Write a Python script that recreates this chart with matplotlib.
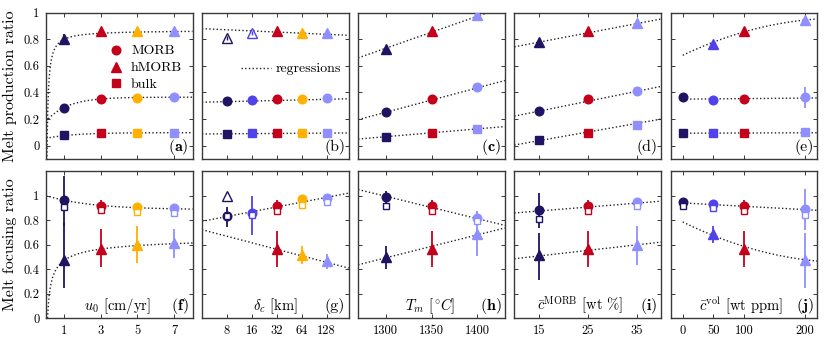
import numpy as np
import matplotlib
matplotlib.use('Agg')
import matplotlib.pyplot as plt
from matplotlib.lines import Line2D

plt.rcParams.update({
    'font.family': 'serif', 'font.serif': ['cmr10'], 'mathtext.fontset': 'cm',
    'axes.formatter.use_mathtext': True, 'font.size': 9,
})

NAVY, MBLUE, RED, ORANGE, LBLUE = '#1e1462', '#4f42ec', '#c4001a', '#ffb000', '#8f8fff'

# ---------------- data ----------------
# (a)/(f): plate speed u0 [cm/yr]
u0 = [1, 3, 5, 7]
u0_colors = [NAVY, RED, ORANGE, LBLUE]
a_morb = [0.287, 0.348, 0.360, 0.365]
a_hmorb = [0.800, 0.862, 0.862, 0.862]
a_bulk = [0.078, 0.095, 0.095, 0.098]
a_morb_err = [0.03, 0, 0, 0]
a_hmorb_err = [0.04, 0, 0, 0]
f_morb = [0.962, 0.916, 0.905, 0.896]
f_morb_lo = [0.75, 0.87, 0.88, 0.87]
f_morb_hi = [1.163, 0.96, 0.93, 0.92]
f_bulk = [0.907, 0.880, 0.869, 0.861]
f_hmorb = [0.471, 0.564, 0.600, 0.610]
f_hmorb_lo = [0.25, 0.42, 0.45, 0.49]
f_hmorb_hi = [0.78, 0.73, 0.75, 0.73]

# (b)/(g): compaction length delta_c [km]
dc = [8, 16, 32, 64, 128]
dc_colors = [NAVY, MBLUE, RED, ORANGE, LBLUE]
dc_hollow = [True, True, False, False, False]
b_morb = [0.335, 0.343, 0.348, 0.350, 0.358]
b_hmorb = [0.810, 0.844, 0.861, 0.844, 0.849]
b_hmorb_err = [0.015, 0.015, 0, 0, 0]
b_bulk = [0.088, 0.093, 0.095, 0.095, 0.096]
g_morb = [0.831, 0.858, 0.913, 0.973, 0.980]
g_morb_lo = [0.744, 0.676, 0.87, 0.95, 0.95]
g_morb_hi = [0.907, 1.00, 0.96, 1.00, 1.01]
g_bulk = [0.830, 0.845, 0.877, 0.926, 0.945]
g_hmorb = [1.000, np.nan, 0.567, 0.512, 0.463]
g_hmorb_lo = [0.99, np.nan, 0.42, 0.44, 0.40]
g_hmorb_hi = [1.01, np.nan, 0.708, 0.59, 0.52]

# (c)/(h): mantle potential temperature Tm [C]
Tm = [1300, 1350, 1400]
Tm_colors = [NAVY, RED, LBLUE]
c_morb = [0.252, 0.348, 0.440]
c_hmorb = [0.730, 0.861, 0.980]
c_bulk = [0.068, 0.093, 0.126]
h_morb = [0.989, 0.913, 0.817]
h_morb_lo = [0.94, 0.87, 0.76]
h_morb_hi = [1.04, 0.96, 0.877]
h_bulk = [0.913, 0.872, 0.796]
h_hmorb = [0.496, 0.564, 0.690]
h_hmorb_lo = [0.40, 0.42, 0.51]
h_hmorb_hi = [0.59, 0.708, 0.87]

# (d)/(i): MORB fraction c_MORB [wt %]
cm = [15, 25, 35]
cm_colors = [NAVY, RED, LBLUE]
d_morb = [0.264, 0.348, 0.408]
d_hmorb = [0.776, 0.864, 0.920]
d_bulk = [0.043, 0.093, 0.156]
i_morb = [0.886, 0.916, 0.946]
i_morb_lo = [0.735, 0.87, 0.91]
i_morb_hi = [1.02, 0.96, 0.98]
i_bulk = [0.812, 0.877, 0.913]
i_hmorb = [0.512, 0.567, 0.600]
i_hmorb_lo = [0.313, 0.42, 0.436]
i_hmorb_hi = [0.695, 0.708, 0.755]

# (e)/(j): volatile content c_vol [wt ppm]
cv = [0, 50, 100, 200]
cv_colors = [NAVY, MBLUE, RED, LBLUE]
e_morb = [0.365, 0.345, 0.348, 0.365]
e_morb_err = [0, 0, 0, 0.08]
e_hmorb = [np.nan, 0.768, 0.861, 0.945]
e_bulk = [0.096, 0.093, 0.093, 0.106]
j_morb = [0.948, 0.935, 0.913, 0.891]
j_morb_lo = [0.935, 0.915, 0.87, 0.722]
j_morb_hi = [0.96, 0.955, 0.96, 1.054]
j_bulk = [0.913, 0.899, 0.872, 0.845]
j_hmorb = [np.nan, 0.690, 0.567, 0.477]
j_hmorb_lo = [np.nan, 0.613, 0.42, 0.245]
j_hmorb_hi = [np.nan, 0.755, 0.708, 0.695]

# regression parameters
a_reg_morb = (0.365, 0.185, 1.15)    # A - B exp(-x/tau)
a_reg_bulk = (0.098, 0.043, 1.5)
a_reg_hmorb = (0.868, 0.068)         # A - B / x
f_reg_morb = (0.885, -0.115, 2.5)    # A - B exp(-x/tau)
f_reg_hmorb = (0.691, 0.22)          # A - B / sqrt(x)
b_reg = {'morb': (0.0044, 0.318), 'hmorb': (-0.0085, 0.897), 'bulk': (0.00136, 0.0853)}  # vs log2
g_reg = {'up': (0.039, 0.712), 'low': (-0.0531, 0.828)}
c_reg = {'morb': (0.00184, 0.343), 'hmorb': (0.00241, 0.853), 'bulk': (0.000588, 0.097)}  # vs T-1350
h_reg = {'up': (-0.001825, 0.903), 'low': (0.001875, 0.586)}
d_reg = {'morb': (0.00747, 0.334), 'hmorb': (0.00697, 0.848), 'bulk': (0.0065, 0.1025)}  # vs c-25
i_reg = {'up': (0.0032, 0.906), 'low': (0.00453, 0.553)}
e_reg = {'morb': (0.0, 0.00004, 0.35), 'hmorb': (-4.25e-6, 0.002175, 0.68), 'bulk': (0.0, 0.000015, 0.094)}
j_reg = {'up': (0.0, -0.000273, 0.94), 'low': (4.5e-6, -0.00244, 0.785)}

# ---------------- layout ----------------
W, H = 830, 343
fig = plt.figure(figsize=(W / 100, H / 100), dpi=100)
lefts = [45.7 + 156.2 * k for k in range(5)]
pw = 146.8
top_row = (12.7, 159.0)
bot_row = (171.0, 318.3)


def mk_ax(left, row):
    return fig.add_axes([left / W, 1 - row[1] / H, pw / W, (row[1] - row[0]) / H])


axt = [mk_ax(l, top_row) for l in lefts]
axb = [mk_ax(l, bot_row) for l in lefts]

xlims = [(0, 8), (4, 237), (1270, 1430), (10, 40), (-20, 220)]
xticks = [u0, dc, Tm, cm, cv]
EC = '#3a3a3a'
for k in range(5):
    for ax in (axt[k], axb[k]):
        if k == 1:
            ax.set_xscale('log', base=2)
            ax.minorticks_off()
        ax.set_xlim(*xlims[k])
        ax.set_xticks(xticks[k])
        ax.set_xticklabels([str(v) for v in xticks[k]])
        ax.tick_params(direction='in', top=True, right=True, length=3, width=0.7,
                       color=EC, labelsize=9, pad=4.5)
        for s in ax.spines.values():
            s.set_linewidth(1.0)
            s.set_color(EC)
    axt[k].set_ylim(-0.1, 1)
    axt[k].set_yticks([0, 0.2, 0.4, 0.6, 0.8, 1])
    axt[k].set_xticklabels([])
    axb[k].set_ylim(0, 1.2)
    axb[k].set_yticks([0, 0.2, 0.4, 0.6, 0.8, 1])
    if k == 0:
        axt[k].set_yticklabels(['0', '0.2', '0.4', '0.6', '0.8', '1'])
        axb[k].set_yticklabels(['0', '0.2', '0.4', '0.6', '0.8', '1'])
    else:
        axt[k].set_yticklabels([])
        axb[k].set_yticklabels([])

axt[0].set_ylabel('Melt production ratio', fontsize=11.5, labelpad=5)
axb[0].set_ylabel('Melt focusing ratio', fontsize=11.5, labelpad=5)

EW = 1.3


def eb(ax, x, y, lo, hi, marker, c, ms, mfc, z):
    if np.isnan(y):
        return
    yerr = [[max(y - lo, 0)], [max(hi - y, 0)]]
    ax.errorbar([x], [y], yerr=yerr, fmt=marker, color=c, mec=c, mfc=mfc, ms=ms,
                elinewidth=EW, capsize=0, zorder=z, mew=1.0)


def draw_top(ax, xs, cols, morb, hmorb, bulk, morb_err=None, hmorb_err=None, hollow=None):
    n = len(xs)
    morb_err = morb_err or [0] * n
    hmorb_err = hmorb_err or [0] * n
    hollow = hollow or [False] * n
    for i in range(n):
        c = cols[i]
        eb(ax, xs[i], hmorb[i], hmorb[i] - hmorb_err[i], hmorb[i] + hmorb_err[i], '^', c, 7,
           'white' if hollow[i] else c, 3)
        if hollow[i]:
            ax.errorbar([xs[i]], [hmorb[i]], yerr=[[hmorb_err[i]], [hmorb_err[i]]], fmt='none',
                        ecolor=c, elinewidth=1.0, capsize=0, zorder=3.5)
        eb(ax, xs[i], morb[i], morb[i] - morb_err[i], morb[i] + morb_err[i], 'o', c, 6.2, c, 3)
        eb(ax, xs[i], bulk[i], bulk[i], bulk[i], 's', c, 5.3, c, 3)


def draw_bot(ax, xs, cols, morb, mlo, mhi, bulk, hmorb, hlo, hhi, hollow=None):
    n = len(xs)
    hollow = hollow or [False] * n
    for i in range(n):
        c = cols[i]
        eb(ax, xs[i], hmorb[i], hlo[i], hhi[i], '^', c, 7, 'white' if hollow[i] else c, 3)
        eb(ax, xs[i], morb[i], mlo[i], mhi[i], 'o', c, 6.2, c, 3)
        ax.plot([xs[i]], [bulk[i]], 's', mec=c, mfc='white', ms=5.0, mew=1.0, zorder=4)


LS = dict(ls=':', color='#222222', lw=1.0, zorder=2)

# (a)
xa = np.linspace(0.01, 8, 400)
for A, B, tau in (a_reg_morb, a_reg_bulk):
    axt[0].plot(xa, A - B * np.exp(-xa / tau), **LS)
axt[0].plot(xa, a_reg_hmorb[0] - a_reg_hmorb[1] / xa, **LS)
draw_top(axt[0], u0, u0_colors, a_morb, a_hmorb, a_bulk, a_morb_err, a_hmorb_err)
# (f)
axb[0].plot(xa, f_reg_morb[0] - f_reg_morb[1] * np.exp(-xa / f_reg_morb[2]), **LS)
axb[0].plot(xa, f_reg_hmorb[0] - f_reg_hmorb[1] / np.sqrt(xa), **LS)
draw_bot(axb[0], u0, u0_colors, f_morb, f_morb_lo, f_morb_hi, f_bulk, f_hmorb, f_hmorb_lo, f_hmorb_hi)

# (b)/(g)
xb = np.logspace(np.log2(4), np.log2(237), 200, base=2)
for key in ('morb', 'hmorb', 'bulk'):
    axt[1].plot(xb, np.polyval(b_reg[key], np.log2(xb)), **LS)
draw_top(axt[1], dc, dc_colors, b_morb, b_hmorb, b_bulk, hmorb_err=b_hmorb_err, hollow=dc_hollow)
for key in ('up', 'low'):
    axb[1].plot(xb, np.polyval(g_reg[key], np.log2(xb)), **LS)
draw_bot(axb[1], dc, dc_colors, g_morb, g_morb_lo, g_morb_hi, g_bulk, g_hmorb, g_hmorb_lo, g_hmorb_hi,
         hollow=dc_hollow)

# (c)/(h)
xc = np.linspace(1270, 1430, 50)
for key in ('morb', 'hmorb', 'bulk'):
    axt[2].plot(xc, np.polyval(c_reg[key], xc - 1350), **LS)
draw_top(axt[2], Tm, Tm_colors, c_morb, c_hmorb, c_bulk)
for key in ('up', 'low'):
    axb[2].plot(xc, np.polyval(h_reg[key], xc - 1350), **LS)
draw_bot(axb[2], Tm, Tm_colors, h_morb, h_morb_lo, h_morb_hi, h_bulk, h_hmorb, h_hmorb_lo, h_hmorb_hi)

# (d)/(i)
xd = np.linspace(10, 40, 50)
for key in ('morb', 'hmorb', 'bulk'):
    axt[3].plot(xd, np.polyval(d_reg[key], xd - 25), **LS)
draw_top(axt[3], cm, cm_colors, d_morb, d_hmorb, d_bulk)
for key in ('up', 'low'):
    axb[3].plot(xd, np.polyval(i_reg[key], xd - 25), **LS)
draw_bot(axb[3], cm, cm_colors, i_morb, i_morb_lo, i_morb_hi, i_bulk, i_hmorb, i_hmorb_lo, i_hmorb_hi)

# (e)/(j)
xe = np.linspace(0, 220, 100)
for key in ('morb', 'hmorb', 'bulk'):
    axt[4].plot(xe, np.polyval(e_reg[key], xe), **LS)
draw_top(axt[4], cv, cv_colors, e_morb, e_hmorb, e_bulk, e_morb_err)
for key in ('up', 'low'):
    axb[4].plot(xe, np.polyval(j_reg[key], xe), **LS)
draw_bot(axb[4], cv, cv_colors, j_morb, j_morb_lo, j_morb_hi, j_bulk, j_hmorb, j_hmorb_lo, j_hmorb_hi)

# panel labels
top_labels = [r'$\mathbf{(a)}$', '(b)', r'$\mathbf{(c)}$', '(d)', '(e)']
bot_labels = [r'$\mathbf{(f)}$', '(g)', r'$\mathbf{(h)}$', r'$\mathbf{(i)}$', r'$\mathbf{(j)}$']
for k in range(5):
    axt[k].text(0.975, 0.055, top_labels[k], transform=axt[k].transAxes, ha='right', va='baseline', fontsize=11.5)
    axb[k].text(0.975, 0.055, bot_labels[k], transform=axb[k].transAxes, ha='right', va='baseline', fontsize=11.5)

xlabels = [r'$u_0$ [cm/yr]', r'$\delta_c$ [km]', r'$T_m$ [$^\circ\!C$]',
           r'$\bar{c}^{\rm MORB}$ [wt %]', r'$\bar{c}^{\rm vol}$ [wt ppm]']
xlab_pos = [0.49, 0.5, 0.49, 0.45, 0.48]
for k in range(5):
    axb[k].text(xlab_pos[k], 0.055, xlabels[k], transform=axb[k].transAxes, ha='center', va='baseline',
                fontsize=10.5)

# legends
h1 = [Line2D([], [], ls='none', marker='o', color=RED, ms=6.2),
      Line2D([], [], ls='none', marker='^', color=RED, ms=7),
      Line2D([], [], ls='none', marker='s', color=RED, ms=5.3)]
axt[0].legend(h1, ['MORB', 'hMORB', 'bulk'], loc='center', bbox_to_anchor=(0.68, 0.622), frameon=False,
              handlelength=1.0, handletextpad=0.6, labelspacing=0.3, borderpad=0, fontsize=10)
h2 = [Line2D([], [], **dict(LS, zorder=None))]
axt[1].legend(h2, ['regressions'], loc='center', bbox_to_anchor=(0.605, 0.615), frameon=False,
              handlelength=2.2, handletextpad=0.3, borderpad=0, fontsize=10)

fig.savefig('out.png', dpi=100)
